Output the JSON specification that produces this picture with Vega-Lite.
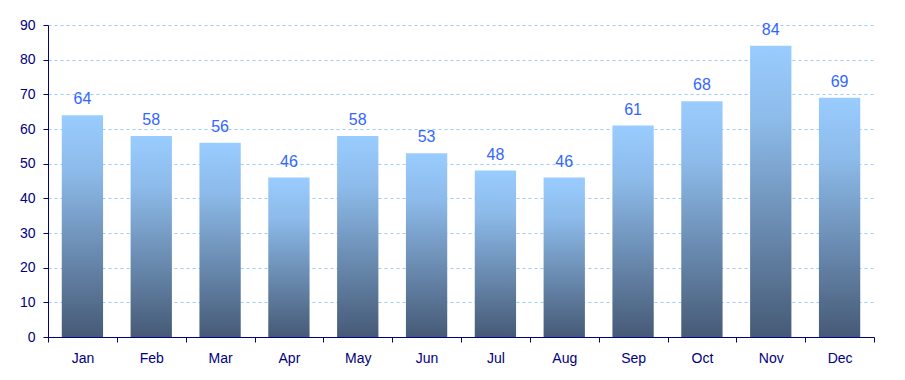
{
  "$schema": "https://vega.github.io/schema/vega-lite/v6.json",
  "autosize": {"type": "none"},
  "width": 826,
  "height": 312,
  "padding": {"left": 48, "top": 25, "right": 31, "bottom": 43},
  "background": "white",
  "config": {
    "view": {"stroke": null},
    "font": "Liberation Sans"
  },
  "data": {
    "values": [
      {"month": "Jan", "value": 64},
      {"month": "Feb", "value": 58},
      {"month": "Mar", "value": 56},
      {"month": "Apr", "value": 46},
      {"month": "May", "value": 58},
      {"month": "Jun", "value": 53},
      {"month": "Jul", "value": 48},
      {"month": "Aug", "value": 46},
      {"month": "Sep", "value": 61},
      {"month": "Oct", "value": 68},
      {"month": "Nov", "value": 84},
      {"month": "Dec", "value": 69}
    ]
  },
  "encoding": {
    "x": {
      "field": "month",
      "type": "ordinal",
      "sort": null,
      "scale": {"paddingInner": 0, "paddingOuter": 0},
      "axis": {
        "title": null,
        "labelAngle": 0,
        "tickBand": "extent",
        "domainColor": "#000080",
        "tickColor": "#000080",
        "tickSize": 5,
        "labelColor": "#000080",
        "labelFontSize": 14,
        "labelPadding": 9,
        "grid": false
      }
    },
    "y": {
      "field": "value",
      "type": "quantitative",
      "scale": {"domain": [0, 90], "nice": false},
      "axis": {
        "title": null,
        "values": [0, 10, 20, 30, 40, 50, 60, 70, 80, 90],
        "domainColor": "#000080",
        "tickColor": "#000080",
        "tickSize": 5,
        "labelColor": "#000080",
        "labelFontSize": 14,
        "labelPadding": 8,
        "grid": true,
        "gridColor": "#99CCFF",
        "gridDash": [3, 3],
        "gridWidth": 1
      }
    }
  },
  "layer": [
    {
      "mark": {
        "type": "bar",
        "width": {"band": 0.6},
        "fill": {
          "gradient": "linear",
          "x1": 0, "y1": 0, "x2": 0, "y2": 1,
          "stops": [
            {"offset": 0, "color": "#99CCFF"},
            {"offset": 0.25, "color": "#8DBBEA"},
            {"offset": 1, "color": "#465A76"}
          ]
        }
      }
    },
    {
      "mark": {
        "type": "text",
        "baseline": "alphabetic",
        "dy": -11,
        "fontSize": 16,
        "color": "#3366FF"
      },
      "encoding": {"text": {"field": "value", "type": "quantitative"}}
    }
  ]
}
